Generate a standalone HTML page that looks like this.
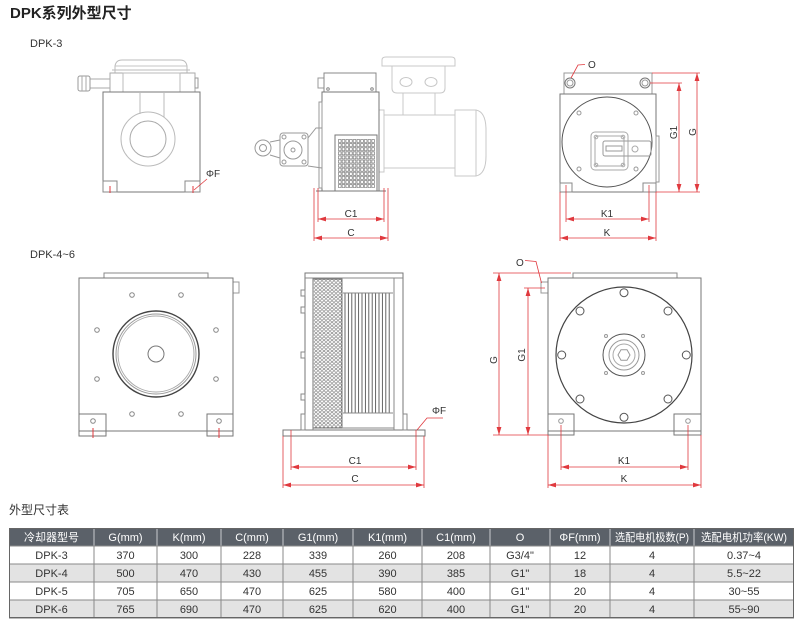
<!DOCTYPE html>
<html><head><meta charset="utf-8">
<style>
html,body{margin:0;padding:0;background:#fff;width:800px;height:627px;overflow:hidden;}
svg{display:block}
text{font-family:"Liberation Sans","Noto Sans CJK SC",sans-serif;}
</style></head><body>
<svg width="800" height="627" viewBox="0 0 800 627" xmlns="http://www.w3.org/2000/svg">
<defs>
<pattern id="grid" x="338" y="139" width="3.7" height="4.1" patternUnits="userSpaceOnUse">
<rect x="0.5" y="0.5" width="2.6" height="3" fill="none" stroke="#666" stroke-width="0.6"/>
</pattern>
<pattern id="perf" x="314" y="279" width="4" height="3.6" patternUnits="userSpaceOnUse">
<circle cx="2" cy="1.8" r="1.4" fill="none" stroke="#777" stroke-width="0.55"/>
</pattern>
<marker id="a" viewBox="0 0 8 6" refX="8" refY="3" markerWidth="8" markerHeight="6" markerUnits="userSpaceOnUse" orient="auto-start-reverse">
<path d="M0,0.6 L8,3 L0,5.4z" fill="#e0393e"/>
</marker>
</defs>

<!-- Titles -->
<text x="10" y="18" font-size="15" font-weight="bold" fill="#222">DPK系列外型尺寸</text>
<text x="30" y="47" font-size="11" fill="#333">DPK-3</text>
<text x="30" y="258" font-size="11" fill="#333">DPK-4~6</text>
<text x="9" y="514" font-size="12" fill="#333">外型尺寸表</text>

<!-- ===== DPK-3 front ===== -->
<g fill="none" stroke-width="1">
 <path d="M115,73 L115,66 Q116,60 122,60 L180,60 Q186,60 187,66 L187,73" stroke="#bbb"/>
 <line x1="115" y1="66" x2="187" y2="66" stroke="#c4c4c4"/>
 <line x1="112" y1="70" x2="190" y2="70" stroke="#bbb"/>
 <rect x="110" y="73" width="85" height="19" stroke="#aaa"/>
 <rect x="123" y="73" width="57" height="19" stroke="#bbb"/>
 <rect x="195" y="78" width="3" height="10" stroke="#999"/>
 <rect x="90" y="79" width="20" height="9" stroke="#aaa"/>
 <rect x="78" y="76" width="12" height="15" rx="2" stroke="#999"/>
 <line x1="82" y1="76" x2="82" y2="91" stroke="#aaa"/>
 <line x1="86" y1="76" x2="86" y2="91" stroke="#aaa"/>
 <rect x="103" y="92" width="97" height="100" stroke="#777"/>
 <line x1="140" y1="92" x2="140" y2="114" stroke="#bbb"/>
 <line x1="164" y1="92" x2="164" y2="117" stroke="#bbb"/>
 <circle cx="148" cy="139" r="27" stroke="#bbb"/>
 <circle cx="148" cy="139" r="18" stroke="#aaa"/>
 <rect x="103" y="181" width="14" height="11" stroke="#888"/>
 <rect x="185" y="181" width="15" height="11" stroke="#888"/>
</g>
<g stroke="#e0393e" stroke-width="1">
 <line x1="110" y1="186" x2="110" y2="193"/>
 <line x1="193" y1="186" x2="193" y2="193"/>
 <line x1="207" y1="179" x2="194" y2="190" stroke-width="0.8"/>
</g>
<text x="206" y="177" font-size="10" fill="#333">ΦF</text>

<!-- ===== DPK-3 side ===== -->
<g fill="none" stroke-width="1">
 <g stroke="#c8c8c8">
  <path d="M382,66 L382,60 Q382,57 386,57 L451,57 Q455,57 455,60 L455,66 Z"/>
  <path d="M392,66 L392,88 Q392,93 397,93 L440,93 Q445,93 445,88 L445,66"/>
  <ellipse cx="406" cy="82" rx="6" ry="4.5"/>
  <ellipse cx="431" cy="82" rx="6" ry="4.5"/>
  <line x1="403" y1="93" x2="403" y2="115"/>
  <line x1="435" y1="93" x2="435" y2="115"/>
  <rect x="379" y="110" width="5" height="62"/>
  <rect x="384" y="115" width="71" height="53"/>
  <path d="M455,110 L476,110 Q486,112 486,130 L486,156 Q486,174 476,176 L455,176 Z"/>
  <line x1="476" y1="110" x2="476" y2="176"/>
 </g>
 <g stroke="#999">
  <path d="M308,138 L316,128 L322,128 L322,168 L308,166"/>
  <rect x="280" y="133" width="28" height="33" rx="3"/>
  <circle cx="293" cy="150" r="9"/>
  <circle cx="293" cy="150" r="2"/>
  <circle cx="284" cy="137" r="2"/>
  <circle cx="304" cy="137" r="2"/>
  <circle cx="284" cy="162" r="2"/>
  <circle cx="304" cy="162" r="2"/>
  <circle cx="263" cy="148" r="8"/>
  <circle cx="263" cy="148" r="3.5"/>
  <path d="M270,142 L280,140 M270,155 L280,158"/>
 </g>
 <rect x="318" y="78" width="6" height="10" stroke="#999"/>
 <rect x="324" y="73" width="52" height="19" stroke="#888"/>
 <rect x="322" y="92" width="57" height="99" stroke="#777"/>
 <rect x="319" y="102" width="3" height="86" stroke="#999"/>
 <rect x="335" y="135" width="42" height="56" stroke="#777"/>
 <rect x="338" y="139" width="37" height="49" fill="url(#grid)" stroke="none"/>
 <line x1="316" y1="191" x2="386" y2="191" stroke="#777"/>
 <g stroke="#888">
  <circle cx="328" cy="89" r="1.3"/><circle cx="372" cy="89" r="1.3"/>
 </g>
</g>
<g stroke="#e0393e" stroke-width="0.8" fill="none">
 <line x1="318" y1="188" x2="318" y2="222"/>
 <line x1="384" y1="188" x2="384" y2="222"/>
 <line x1="314" y1="188" x2="314" y2="241"/>
 <line x1="388" y1="188" x2="388" y2="241"/>
 <line x1="318" y1="219" x2="384" y2="219" marker-start="url(#a)" marker-end="url(#a)"/>
 <line x1="314" y1="238" x2="388" y2="238" marker-start="url(#a)" marker-end="url(#a)"/>
</g>
<text x="351" y="217" font-size="10" fill="#333" text-anchor="middle">C1</text>
<text x="351" y="236" font-size="10" fill="#333" text-anchor="middle">C</text>

<!-- ===== DPK-3 right ===== -->
<g fill="none" stroke-width="1">
 <rect x="564" y="73" width="88" height="21" stroke="#999"/>
 <rect x="560" y="94" width="96" height="98" stroke="#777"/>
 <rect x="656" y="136" width="3" height="46" stroke="#999"/>
 <circle cx="570" cy="83" r="5" stroke="#777"/>
 <circle cx="570" cy="83" r="3" stroke="#999"/>
 <circle cx="645" cy="83" r="5" stroke="#777"/>
 <circle cx="645" cy="83" r="3" stroke="#999"/>
 <circle cx="607" cy="142" r="45" stroke="#555"/>
 <g stroke="#999">
  <circle cx="579" cy="113" r="2"/><circle cx="636" cy="113" r="2"/>
  <circle cx="579" cy="169" r="2"/><circle cx="636" cy="169" r="2"/>
 </g>
 <g stroke="#aaa">
  <rect x="591" y="132" width="37" height="38" rx="4"/>
  <rect x="595" y="136" width="29" height="30" rx="3"/>
  <circle cx="596" cy="137" r="1.8"/><circle cx="623" cy="137" r="1.8"/>
  <circle cx="596" cy="165" r="1.8"/><circle cx="623" cy="165" r="1.8"/>
 </g>
 <rect x="603" y="141" width="48" height="15" rx="2" stroke="#999"/>
 <rect x="606" y="146" width="16" height="5" stroke="#999"/>
 <circle cx="635" cy="149" r="3" stroke="#aaa"/>
 <rect x="560" y="183" width="12" height="9" stroke="#888"/>
 <rect x="643" y="183" width="13" height="9" stroke="#888"/>
</g>
<g stroke="#e0393e" stroke-width="0.8" fill="none">
 <line x1="566" y1="185" x2="566" y2="222"/>
 <line x1="649" y1="185" x2="649" y2="222"/>
 <line x1="560" y1="192" x2="560" y2="241"/>
 <line x1="656" y1="192" x2="656" y2="241"/>
 <line x1="566" y1="219" x2="649" y2="219" marker-start="url(#a)" marker-end="url(#a)"/>
 <line x1="560" y1="238" x2="656" y2="238" marker-start="url(#a)" marker-end="url(#a)"/>
 <line x1="652" y1="73" x2="700" y2="73"/>
 <line x1="650" y1="83" x2="682" y2="83"/>
 <line x1="656" y1="192" x2="700" y2="192"/>
 <line x1="679" y1="83" x2="679" y2="192" marker-start="url(#a)" marker-end="url(#a)"/>
 <line x1="697" y1="73" x2="697" y2="192" marker-start="url(#a)" marker-end="url(#a)"/>
 <polyline points="585,64.5 578,65 571,78"/>
</g>
<text x="607" y="217" font-size="10" fill="#333" text-anchor="middle">K1</text>
<text x="607" y="236" font-size="10" fill="#333" text-anchor="middle">K</text>
<text x="588" y="68" font-size="10" fill="#333">O</text>
<text transform="translate(677,132.5) rotate(-90)" font-size="10" fill="#333" text-anchor="middle">G1</text>
<text transform="translate(696,132) rotate(-90)" font-size="10" fill="#333" text-anchor="middle">G</text>

<!-- ===== DPK-4~6 front ===== -->
<g fill="none" stroke-width="1">
 <rect x="104" y="273" width="104" height="5" stroke="#888"/>
 <rect x="233" y="282" width="6" height="11" stroke="#999"/>
 <rect x="79" y="278" width="154" height="153" stroke="#777"/>
 <rect x="79" y="414" width="27" height="22" stroke="#777"/>
 <rect x="207" y="414" width="26" height="22" stroke="#777"/>
 <circle cx="156" cy="354" r="43" stroke="#444" stroke-width="1.4"/>
 <circle cx="156" cy="354" r="40" stroke="#999"/>
 <circle cx="156" cy="354" r="38" stroke="#aaa"/>
 <circle cx="156" cy="354" r="8" stroke="#777"/>
 <g stroke="#888">
  <circle cx="132" cy="295" r="2.3"/><circle cx="181" cy="295" r="2.3"/>
  <circle cx="97" cy="330" r="2.3"/><circle cx="216" cy="330" r="2.3"/>
  <circle cx="97" cy="379" r="2.3"/><circle cx="216" cy="379" r="2.3"/>
  <circle cx="132" cy="414" r="2.3"/><circle cx="181" cy="414" r="2.3"/>
  <circle cx="93" cy="421" r="2.3"/><circle cx="219" cy="421" r="2.3"/>
 </g>
</g>
<g stroke="#e0393e" stroke-width="1">
 <line x1="93" y1="428" x2="93" y2="438"/>
 <line x1="219" y1="428" x2="219" y2="438"/>
</g>

<!-- ===== DPK-4~6 side ===== -->
<g fill="none" stroke-width="1">
 <rect x="283" y="430" width="142" height="6" stroke="#777"/>
 <rect x="305" y="273" width="98" height="157" stroke="#777"/>
 <line x1="305" y1="278" x2="403" y2="278" stroke="#888"/>
 <line x1="313" y1="278" x2="313" y2="430" stroke="#888"/>
 <line x1="394" y1="278" x2="394" y2="430" stroke="#888"/>
 <rect x="313" y="279" width="29" height="149" fill="url(#perf)" stroke="#777"/>
 <line x1="342" y1="428" x2="394" y2="428" stroke="#888"/>
 <rect x="301" y="414" width="4" height="16" stroke="#888"/>
 <rect x="403" y="414" width="4" height="16" stroke="#888"/>
 <g stroke="#888">
  <rect x="301" y="290" width="4" height="6"/>
  <rect x="301" y="307" width="4" height="6"/>
  <rect x="301" y="352" width="4" height="6"/>
  <rect x="301" y="394" width="4" height="6"/>
 </g>
 <g stroke="#555" stroke-width="0.9">
  <line x1="345" y1="293" x2="345" y2="413"/>
  <line x1="348.4" y1="293" x2="348.4" y2="413"/>
  <line x1="351.8" y1="293" x2="351.8" y2="413"/>
  <line x1="355.2" y1="293" x2="355.2" y2="413"/>
  <line x1="358.6" y1="293" x2="358.6" y2="413"/>
  <line x1="362" y1="293" x2="362" y2="413"/>
  <line x1="365.4" y1="293" x2="365.4" y2="413"/>
  <line x1="368.8" y1="293" x2="368.8" y2="413"/>
  <line x1="372.2" y1="293" x2="372.2" y2="413"/>
  <line x1="375.6" y1="293" x2="375.6" y2="413"/>
  <line x1="379" y1="293" x2="379" y2="413"/>
  <line x1="382.4" y1="293" x2="382.4" y2="413"/>
  <line x1="385.8" y1="293" x2="385.8" y2="413"/>
  <line x1="389.2" y1="293" x2="389.2" y2="413"/>
 </g>
 <line x1="343" y1="293" x2="393" y2="293" stroke="#888"/>
 <line x1="343" y1="413" x2="393" y2="413" stroke="#888"/>
</g>
<g stroke="#e0393e" stroke-width="0.8" fill="none">
 <line x1="291" y1="430" x2="291" y2="470"/>
 <line x1="416" y1="430" x2="416" y2="470"/>
 <line x1="283" y1="436" x2="283" y2="488"/>
 <line x1="424" y1="436" x2="424" y2="488"/>
 <line x1="291" y1="467" x2="416" y2="467" marker-start="url(#a)" marker-end="url(#a)"/>
 <line x1="283" y1="485" x2="424" y2="485" marker-start="url(#a)" marker-end="url(#a)"/>
 <polyline points="443,418 427,418 417,430"/>
</g>
<text x="355" y="464" font-size="10" fill="#333" text-anchor="middle">C1</text>
<text x="355" y="482" font-size="10" fill="#333" text-anchor="middle">C</text>
<text x="432" y="414" font-size="10" fill="#333">ΦF</text>

<!-- ===== DPK-4~6 right ===== -->
<g fill="none" stroke-width="1">
 <rect x="573" y="273" width="104" height="5" stroke="#888"/>
 <rect x="541" y="282" width="7" height="11" stroke="#999"/>
 <rect x="548" y="278" width="153" height="153" stroke="#777"/>
 <rect x="548" y="414" width="26" height="21" stroke="#777"/>
 <rect x="674" y="414" width="27" height="21" stroke="#777"/>
 <circle cx="624" cy="355" r="68" stroke="#444" stroke-width="1.2"/>
 <g stroke="#555">
  <circle cx="624" cy="292.7" r="4"/><circle cx="624" cy="417.3" r="4"/>
  <circle cx="561.7" cy="355" r="4"/><circle cx="686.3" cy="355" r="4"/>
  <circle cx="580" cy="311" r="4"/><circle cx="668" cy="311" r="4"/>
  <circle cx="580" cy="399" r="4"/><circle cx="668" cy="399" r="4"/>
 </g>
 <circle cx="624" cy="355" r="21" stroke="#555"/>
 <circle cx="624" cy="355" r="15" stroke="#999"/>
 <circle cx="624" cy="355" r="11" stroke="#aaa"/>
 <polygon points="630,355 627,360.2 621,360.2 618,355 621,349.8 627,349.8" stroke="#999"/>
 <g stroke="#999">
  <circle cx="606" cy="336" r="1.5"/><circle cx="643" cy="336" r="1.5"/>
  <circle cx="606" cy="373" r="1.5"/><circle cx="643" cy="373" r="1.5"/>
  <circle cx="561" cy="421" r="2.3"/><circle cx="688" cy="421" r="2.3"/>
 </g>
</g>
<g stroke="#e0393e" stroke-width="0.8" fill="none">
 <line x1="561" y1="425" x2="561" y2="470"/>
 <line x1="688" y1="425" x2="688" y2="470"/>
 <line x1="548" y1="435" x2="548" y2="488"/>
 <line x1="701" y1="435" x2="701" y2="488"/>
 <line x1="561" y1="467" x2="688" y2="467" marker-start="url(#a)" marker-end="url(#a)"/>
 <line x1="548" y1="485" x2="701" y2="485" marker-start="url(#a)" marker-end="url(#a)"/>
 <line x1="493" y1="273" x2="571" y2="273"/>
 <line x1="524" y1="288" x2="545" y2="288"/>
 <line x1="493" y1="435" x2="548" y2="435"/>
 <line x1="499" y1="273" x2="499" y2="435" marker-start="url(#a)" marker-end="url(#a)"/>
 <line x1="528" y1="288" x2="528" y2="435" marker-start="url(#a)" marker-end="url(#a)"/>
 <polyline points="525,260.5 536,261.5 541.5,283"/>
</g>
<text x="624" y="464" font-size="10" fill="#333" text-anchor="middle">K1</text>
<text x="624" y="482" font-size="10" fill="#333" text-anchor="middle">K</text>
<text x="516" y="266" font-size="10" fill="#333">O</text>
<text transform="translate(497,360) rotate(-90)" font-size="10" fill="#333" text-anchor="middle">G</text>
<text transform="translate(525,355) rotate(-90)" font-size="10" fill="#333" text-anchor="middle">G1</text>

<!-- ===== TABLE ===== -->
<rect x="9" y="528" width="785" height="18" fill="#5b6169"/>
<rect x="9" y="546" width="785" height="18" fill="#ffffff"/>
<rect x="9" y="564" width="785" height="18" fill="#e3e3e3"/>
<rect x="9" y="582" width="785" height="18" fill="#ffffff"/>
<rect x="9" y="600" width="785" height="18" fill="#e3e3e3"/>
<g stroke="#c8ccd0" stroke-width="1">
 <line x1="94" y1="528" x2="94" y2="546"/><line x1="157" y1="528" x2="157" y2="546"/>
 <line x1="221" y1="528" x2="221" y2="546"/><line x1="283" y1="528" x2="283" y2="546"/>
 <line x1="353" y1="528" x2="353" y2="546"/><line x1="422" y1="528" x2="422" y2="546"/>
 <line x1="490" y1="528" x2="490" y2="546"/><line x1="550" y1="528" x2="550" y2="546"/>
 <line x1="610" y1="528" x2="610" y2="546"/><line x1="694" y1="528" x2="694" y2="546"/>
</g>
<g stroke="#8a8a8a" stroke-width="1">
 <line x1="94" y1="546" x2="94" y2="618"/><line x1="157" y1="546" x2="157" y2="618"/>
 <line x1="221" y1="546" x2="221" y2="618"/><line x1="283" y1="546" x2="283" y2="618"/>
 <line x1="353" y1="546" x2="353" y2="618"/><line x1="422" y1="546" x2="422" y2="618"/>
 <line x1="490" y1="546" x2="490" y2="618"/><line x1="550" y1="546" x2="550" y2="618"/>
 <line x1="610" y1="546" x2="610" y2="618"/><line x1="694" y1="546" x2="694" y2="618"/>
 <line x1="9" y1="546" x2="794" y2="546"/>
 <line x1="9" y1="564" x2="794" y2="564"/>
 <line x1="9" y1="582" x2="794" y2="582"/>
 <line x1="9" y1="600" x2="794" y2="600"/>
</g>
<rect x="9.5" y="528.5" width="784" height="89" fill="none" stroke="#666" stroke-width="1"/>
<line x1="9" y1="618.5" x2="794" y2="618.5" stroke="#bbb" stroke-width="1"/>

<g font-size="11" fill="#ffffff" text-anchor="middle">
 <text x="51.5" y="541">冷却器型号</text>
 <text x="125.5" y="541">G(mm)</text>
 <text x="189" y="541">K(mm)</text>
 <text x="252" y="541">C(mm)</text>
 <text x="318" y="541">G1(mm)</text>
 <text x="387.5" y="541">K1(mm)</text>
 <text x="456" y="541">C1(mm)</text>
 <text x="520" y="541">O</text>
 <text x="580" y="541">ΦF(mm)</text>
 <text x="652" y="541" textLength="74" lengthAdjust="spacingAndGlyphs">选配电机极数(P)</text>
 <text x="744" y="541" textLength="86" lengthAdjust="spacingAndGlyphs">选配电机功率(KW)</text>
</g>
<g font-size="11" fill="#333" text-anchor="middle">
 <text x="51.5" y="559">DPK-3</text><text x="125.5" y="559">370</text><text x="189" y="559">300</text><text x="252" y="559">228</text><text x="318" y="559">339</text><text x="387.5" y="559">260</text><text x="456" y="559">208</text><text x="520" y="559">G3/4"</text><text x="580" y="559">12</text><text x="652" y="559">4</text><text x="744" y="559">0.37~4</text>
 <text x="51.5" y="577">DPK-4</text><text x="125.5" y="577">500</text><text x="189" y="577">470</text><text x="252" y="577">430</text><text x="318" y="577">455</text><text x="387.5" y="577">390</text><text x="456" y="577">385</text><text x="520" y="577">G1"</text><text x="580" y="577">18</text><text x="652" y="577">4</text><text x="744" y="577">5.5~22</text>
 <text x="51.5" y="595">DPK-5</text><text x="125.5" y="595">705</text><text x="189" y="595">650</text><text x="252" y="595">470</text><text x="318" y="595">625</text><text x="387.5" y="595">580</text><text x="456" y="595">400</text><text x="520" y="595">G1"</text><text x="580" y="595">20</text><text x="652" y="595">4</text><text x="744" y="595">30~55</text>
 <text x="51.5" y="613">DPK-6</text><text x="125.5" y="613">765</text><text x="189" y="613">690</text><text x="252" y="613">470</text><text x="318" y="613">625</text><text x="387.5" y="613">620</text><text x="456" y="613">400</text><text x="520" y="613">G1"</text><text x="580" y="613">20</text><text x="652" y="613">4</text><text x="744" y="613">55~90</text>
</g>
</svg>
</body></html>
